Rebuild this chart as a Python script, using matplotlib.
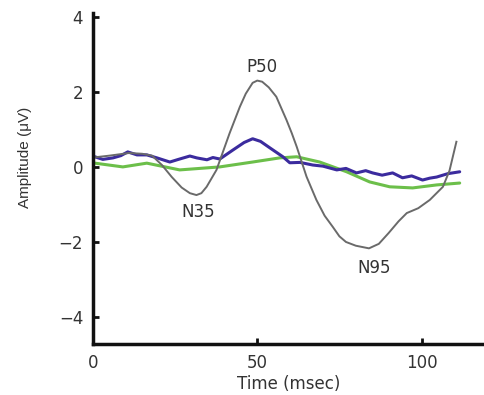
import matplotlib
matplotlib.use("Agg")
import matplotlib.pyplot as plt

plt.rcParams['font.family'] = ['DejaVu Sans']

# Gray trace (main waveform)
gray_t = [0, 5, 11, 15, 18, 21, 24, 27, 29.5, 31.5, 33, 34.6, 37.6, 41.6, 44.7, 46.5, 48.6, 50, 51.5, 53.5, 55.8, 58.9,
          60.5, 62, 65, 68, 70.5, 73, 75, 77, 80, 84, 87, 90, 93, 95.5, 99, 102.5, 106.5, 108.5, 110.6]
gray_v = [0.25, 0.3, 0.37, 0.35, 0.3, 0.05, -0.27, -0.55, -0.7, -0.75, -0.7, -0.53, -0.08, 0.9, 1.6, 1.95, 2.24, 2.3, 2.27,
          2.12, 1.87, 1.25, 0.9, 0.54, -0.26, -0.88, -1.3, -1.6, -1.85, -2.0, -2.1, -2.17, -2.05, -1.76, -1.45, -1.23,
          -1.1, -0.88, -0.53, -0.1, 0.67]

# Blue trace
blue_t = [0.6, 3, 6.1, 8.5, 10.6, 13.4, 16.4, 19.5, 23.4, 26, 29.5, 31.6, 34.7, 36.5, 38.6, 42.6, 46, 48.6, 51, 53.8, 57.8,
          59.9, 63, 66.9, 70, 74.2, 77, 80.2, 83, 85.1, 88, 91.2, 94.2, 97, 100.3, 102.5, 104.6, 108, 111.6]
blue_v = [0.27, 0.2, 0.24, 0.3, 0.40, 0.32, 0.32, 0.24, 0.13, 0.2, 0.29, 0.24, 0.19, 0.25, 0.21, 0.45, 0.65, 0.75, 0.68,
          0.51, 0.27, 0.11, 0.12, 0.05, 0.02, -0.08, -0.04, -0.16, -0.1, -0.16, -0.22, -0.16, -0.29, -0.24, -0.35, -0.3,
          -0.27, -0.18, -0.13]

# Green trace
green_t = [0.6, 9.1, 16.4, 26.4, 38.6, 48.6, 56.8, 62, 69, 77.2, 84.2, 90.3, 97.3, 104.6, 111.6]
green_v = [0.1, 0.0, 0.1, -0.08, 0.0, 0.13, 0.24, 0.27, 0.13, -0.13, -0.4, -0.53, -0.56, -0.48, -0.43]

x_ticks = [0, 50, 100]
y_ticks = [-4, -2, 0, 2, 4]

peaks = [("P50", 51.4, 2.67), ("N35", 32, -1.2), ("N95", 85.7, -2.69)]

fig = plt.figure(figsize=(4.84, 3.95), dpi=100)
ax = fig.add_axes([0.192, 0.129, 0.808, 0.838])

ax.plot(green_t, green_v, color='#6cbf4a', lw=2.2, solid_capstyle='round')
ax.plot(blue_t, blue_v, color='#3b2b9e', lw=2.2, solid_capstyle='round')
ax.plot(gray_t, gray_v, color='#6a6a6a', lw=1.4)

for name, tx, ty in peaks:
    ax.text(tx, ty, name, ha='center', va='center', fontsize=12, color='#333333')

ax.set_xlim(0, 119)
ax.set_ylim(-4.72, 4.1)
ax.set_xticks(x_ticks)
ax.set_yticks(y_ticks)
ax.set_yticklabels(['\u22124', '\u22122', '0', '2', '4'])

for s in ['top', 'right']:
    ax.spines[s].set_visible(False)
for s in ['left', 'bottom']:
    ax.spines[s].set_linewidth(2.5)
    ax.spines[s].set_color('#111111')

ax.tick_params(direction='in', length=4, width=2, labelsize=12, colors='#111111',
               labelcolor='#333333', pad=7)

ax.set_xlabel('Time (msec)', fontsize=12, color='#333333', labelpad=2)
ax.set_ylabel('Amplitude (\u03bcV)', fontsize=11, color='#333333',
              family=['Liberation Sans', 'DejaVu Sans'])
ax.yaxis.set_label_coords(-0.155, 0.565)

fig.savefig('out.png', dpi=100)
